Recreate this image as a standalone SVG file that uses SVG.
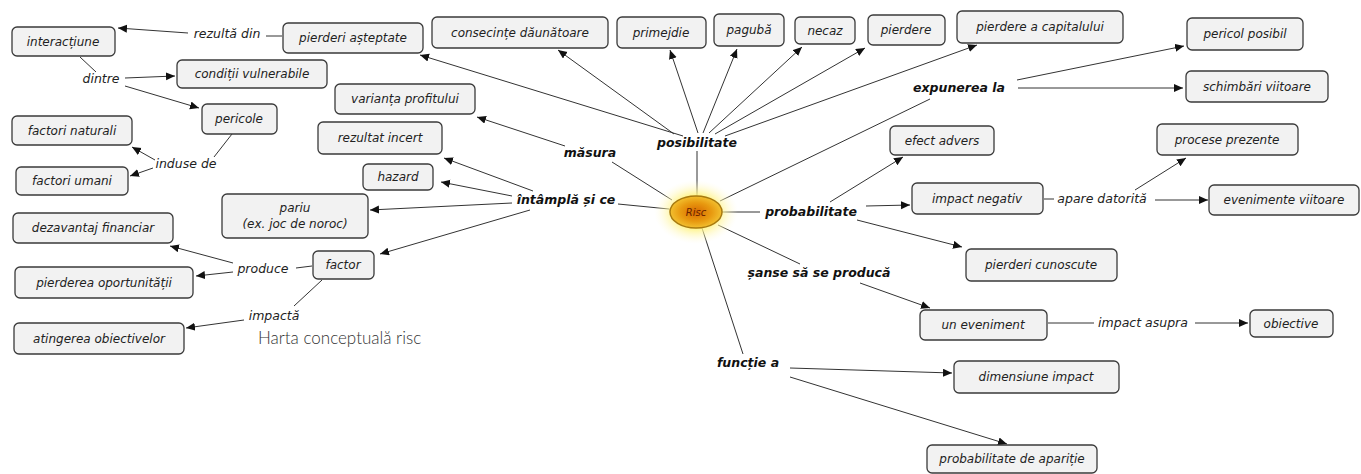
<svg xmlns="http://www.w3.org/2000/svg" width="1361" height="474" viewBox="0 0 1361 474">
<style>
.n rect{fill:#f2f2f2;stroke:#3a3a3a;stroke-width:1.3}
.n text{font-family:"DejaVu Sans",sans-serif;font-style:italic;font-size:12px;fill:#222;text-anchor:middle}
.lb{font-family:"DejaVu Sans",sans-serif;font-style:italic;font-weight:bold;font-size:12.5px;fill:#111;text-anchor:middle}
.ln{font-family:"DejaVu Sans",sans-serif;font-style:italic;font-size:12.5px;fill:#222;text-anchor:middle}
#conn line{stroke:#333;stroke-width:1}
#conn .a{marker-end:url(#ah)}
</style>
<defs>
<marker id="ah" markerUnits="userSpaceOnUse" markerWidth="10" markerHeight="10" refX="9" refY="4" orient="auto"><path d="M0,0 L9,4 L0,8 Z" fill="#111"/></marker>
<radialGradient id="glow" cx="0.5" cy="0.5" r="0.5"><stop offset="0.5" stop-color="#fff27a" stop-opacity="0.9"/><stop offset="1" stop-color="#fffbe0" stop-opacity="0"/></radialGradient>
<radialGradient id="core" cx="0.5" cy="0.5" r="0.5"><stop offset="0" stop-color="#d86a00"/><stop offset="0.6" stop-color="#e89a10"/><stop offset="1" stop-color="#f2c030"/></radialGradient>
</defs>
<rect width="1361" height="474" fill="#ffffff"/>
<g id="conn">
<line x1="697" y1="196" x2="697" y2="151"/>
<line x1="672" y1="200" x2="612" y2="162"/>
<line x1="720" y1="201" x2="930" y2="99"/>
<line x1="669" y1="209" x2="618" y2="204"/>
<line x1="722" y1="212" x2="760" y2="212"/>
<line x1="718" y1="225" x2="800" y2="264"/>
<line x1="702" y1="228" x2="743" y2="354"/>
<line x1="80" y1="57" x2="96" y2="72"/>
<line x1="232" y1="134" x2="214" y2="157"/>
<line x1="282" y1="36" x2="266" y2="36"/>
<line x1="312" y1="266" x2="296" y2="268"/>
<line x1="322" y1="280" x2="294" y2="306"/>
<line x1="1044" y1="199" x2="1054" y2="199"/>
<line x1="1048" y1="323" x2="1094" y2="323"/>
<line class="a" x1="683" y1="136" x2="420" y2="55"/>
<line class="a" x1="674" y1="134" x2="558" y2="50"/>
<line class="a" x1="698" y1="133" x2="670" y2="50"/>
<line class="a" x1="703" y1="133" x2="737" y2="49"/>
<line class="a" x1="709" y1="133" x2="802" y2="47"/>
<line class="a" x1="715" y1="134" x2="865" y2="48"/>
<line class="a" x1="725" y1="136" x2="977" y2="45"/>
<line class="a" x1="565" y1="146" x2="477" y2="117"/>
<line class="a" x1="1017" y1="80" x2="1184" y2="46"/>
<line class="a" x1="1018" y1="88" x2="1183" y2="88"/>
<line class="a" x1="533" y1="191" x2="444" y2="158"/>
<line class="a" x1="512" y1="196" x2="441" y2="182"/>
<line class="a" x1="512" y1="203" x2="370" y2="210"/>
<line class="a" x1="530" y1="210" x2="380" y2="254"/>
<line class="a" x1="830" y1="202" x2="903" y2="157"/>
<line class="a" x1="866" y1="206" x2="910" y2="205"/>
<line class="a" x1="857" y1="220" x2="962" y2="247"/>
<line class="a" x1="860" y1="283" x2="930" y2="308"/>
<line class="a" x1="790" y1="368" x2="952" y2="373"/>
<line class="a" x1="790" y1="377" x2="1007" y2="444"/>
<line class="a" x1="1135" y1="190" x2="1186" y2="158"/>
<line class="a" x1="1155" y1="200" x2="1208" y2="200"/>
<line class="a" x1="1195" y1="323" x2="1248" y2="323"/>
<line class="a" x1="233" y1="263" x2="170" y2="246"/>
<line class="a" x1="233" y1="272" x2="196" y2="276"/>
<line class="a" x1="244" y1="320" x2="186" y2="328"/>
<line class="a" x1="155" y1="160" x2="132" y2="147"/>
<line class="a" x1="153" y1="168" x2="130" y2="176"/>
<line class="a" x1="125" y1="78" x2="175" y2="76"/>
<line class="a" x1="125" y1="86" x2="199" y2="108"/>
<line class="a" x1="188" y1="33" x2="118" y2="28"/>
</g>
<g id="labels">
<text class="lb" x="697" y="147">posibilitate</text>
<text class="lb" x="590" y="157">măsura</text>
<text class="lb" x="959" y="92">expunerea la</text>
<text class="lb" x="566" y="204">întâmplă și ce</text>
<text class="lb" x="811" y="216">probabilitate</text>
<text class="lb" x="819" y="277">șanse să se producă</text>
<text class="lb" x="748" y="367">funcție a</text>
<text class="ln" x="227" y="38">rezultă din</text>
<text class="ln" x="101" y="83">dintre</text>
<text class="ln" x="186" y="168">induse de</text>
<text class="ln" x="263" y="273">produce</text>
<text class="ln" x="274" y="320">impactă</text>
<text class="ln" x="1102" y="203">apare datorită</text>
<text class="ln" x="1143" y="327">impact asupra</text>
</g>
<g id="risc">
<ellipse cx="696" cy="212" rx="42" ry="32" fill="url(#glow)"/>
<ellipse cx="696" cy="212" rx="26" ry="16" fill="url(#core)" stroke="#a87a10" stroke-width="1.5"/>
<text x="696" y="216" font-family="DejaVu Sans, sans-serif" font-size="10" font-style="italic" fill="#6a2200" text-anchor="middle">Risc</text>
</g>
<g id="n1" class="n"><rect x="12" y="27" width="103" height="29" rx="5"/><text x="63" y="46">interacțiune</text></g>
<g id="n2" class="n"><rect x="283" y="23" width="140" height="30" rx="5"/><text x="353" y="42">pierderi așteptate</text></g>
<g id="n3" class="n"><rect x="432" y="17" width="176" height="31" rx="5"/><text x="520" y="37">consecințe dăunătoare</text></g>
<g id="n4" class="n"><rect x="617" y="17" width="89" height="31" rx="5"/><text x="661" y="37">primejdie</text></g>
<g id="n5" class="n"><rect x="714" y="14" width="70" height="32" rx="5"/><text x="749" y="34">pagubă</text></g>
<g id="n6" class="n"><rect x="795" y="17" width="60" height="27" rx="5"/><text x="825" y="35">necaz</text></g>
<g id="n7" class="n"><rect x="868" y="15" width="77" height="30" rx="5"/><text x="906" y="34">pierdere</text></g>
<g id="n8" class="n"><rect x="957" y="11" width="166" height="32" rx="5"/><text x="1040" y="31">pierdere a capitalului</text></g>
<g id="n9" class="n"><rect x="1187" y="18" width="116" height="32" rx="5"/><text x="1245" y="38">pericol posibil</text></g>
<g id="n10" class="n"><rect x="1186" y="71" width="142" height="31" rx="5"/><text x="1257" y="91">schimbări viitoare</text></g>
<g id="n11" class="n"><rect x="177" y="60" width="150" height="28" rx="5"/><text x="252" y="78">condiții vulnerabile</text></g>
<g id="n12" class="n"><rect x="202" y="104" width="75" height="30" rx="5"/><text x="239" y="123">pericole</text></g>
<g id="n13" class="n"><rect x="335" y="84" width="140" height="30" rx="5"/><text x="405" y="103">varianța profitului</text></g>
<g id="n14" class="n"><rect x="12" y="116" width="120" height="29" rx="5"/><text x="72" y="135">factori naturali</text></g>
<g id="n15" class="n"><rect x="16" y="167" width="112" height="28" rx="5"/><text x="72" y="185">factori umani</text></g>
<g id="n16" class="n"><rect x="318" y="122" width="124" height="32" rx="5"/><text x="380" y="142">rezultat incert</text></g>
<g id="n17" class="n"><rect x="363" y="164" width="70" height="26" rx="5"/><text x="398" y="181">hazard</text></g>
<g id="n18" class="n"><rect x="222" y="194" width="146" height="44" rx="5"/><text x="295" y="212">pariu</text><text x="295" y="228">(ex. joc de noroc)</text></g>
<g id="n19" class="n"><rect x="13" y="213" width="160" height="30" rx="5"/><text x="93" y="232">dezavantaj financiar</text></g>
<g id="n20" class="n"><rect x="15" y="267" width="178" height="31" rx="5"/><text x="104" y="287">pierderea oportunității</text></g>
<g id="n21" class="n"><rect x="14" y="323" width="170" height="31" rx="5"/><text x="99" y="343">atingerea obiectivelor</text></g>
<g id="n22" class="n"><rect x="313" y="251" width="61" height="28" rx="5"/><text x="343" y="269">factor</text></g>
<g id="n23" class="n"><rect x="890" y="126" width="104" height="29" rx="5"/><text x="942" y="145">efect advers</text></g>
<g id="n24" class="n"><rect x="1157" y="124" width="141" height="31" rx="5"/><text x="1227" y="144">procese prezente</text></g>
<g id="n25" class="n"><rect x="912" y="183" width="131" height="31" rx="5"/><text x="977" y="203">impact negativ</text></g>
<g id="n26" class="n"><rect x="1209" y="185" width="150" height="30" rx="5"/><text x="1284" y="204">evenimente viitoare</text></g>
<g id="n27" class="n"><rect x="966" y="249" width="151" height="32" rx="5"/><text x="1041" y="269">pierderi cunoscute</text></g>
<g id="n28" class="n"><rect x="920" y="310" width="127" height="30" rx="5"/><text x="983" y="329">un eveniment</text></g>
<g id="n29" class="n"><rect x="1250" y="310" width="83" height="27" rx="5"/><text x="1291" y="328">obiective</text></g>
<g id="n30" class="n"><rect x="954" y="361" width="165" height="32" rx="5"/><text x="1036" y="381">dimensiune impact</text></g>
<g id="n31" class="n"><rect x="927" y="445" width="170" height="28" rx="5"/><text x="1012" y="463">probabilitate de apariție</text></g>
<text id="title" x="258" y="344" font-family="Lato, 'Open Sans', sans-serif" font-weight="300" font-size="17" fill="#333">Harta conceptuală risc</text>
</svg>
